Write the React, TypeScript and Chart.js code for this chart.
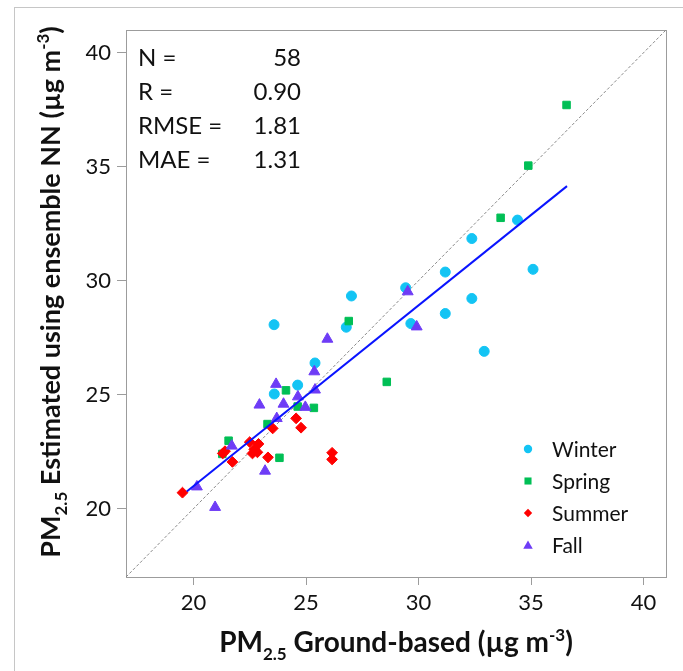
import React, { useEffect, useRef } from "react";
import { Chart, registerables } from "chart.js";

Chart.register(...registerables);

// ---- data ----
const winterX = [34.4, 32.37, 31.19, 35.09, 29.43, 27.02, 32.37, 31.19, 23.58, 29.66, 26.79, 32.92, 25.4, 24.63, 23.59];
const winterY = [32.66, 31.85, 30.38, 30.5, 29.69, 29.33, 29.22, 28.56, 28.07, 28.12, 27.96, 26.9, 26.39, 25.42, 25.03];

const springX = [36.58, 34.88, 33.65, 26.9, 28.59, 24.11, 24.63, 25.35, 23.29, 21.56, 21.28, 23.82];
const springY = [37.71, 35.05, 32.76, 28.23, 25.56, 25.19, 24.48, 24.42, 23.71, 22.98, 22.4, 22.23];

const summerX = [19.51, 21.3, 21.4, 21.73, 22.5, 22.89, 22.62, 22.84, 23.31, 23.52, 24.56, 24.78, 26.16, 26.16, 22.7];
const summerY = [20.7, 22.42, 22.52, 22.05, 22.92, 22.84, 22.42, 22.47, 22.25, 23.52, 23.96, 23.55, 22.45, 22.16, 22.6];

const fallX = [20.15, 20.96, 21.7, 23.18, 22.93, 23.67, 24.0, 23.7, 24.64, 24.97, 25.4, 25.37, 25.95, 29.52, 29.92];
const fallY = [20.96, 20.06, 22.75, 21.65, 24.55, 25.46, 24.59, 23.96, 24.91, 24.45, 25.21, 26.01, 27.44, 29.52, 27.98];

const fitX = [19.7, 36.6];
const fitY = [20.75, 34.15];

const identityX = [17, 41];
const identityY = [17, 41];

const axisMin = 17;
const axisMax = 41;
const tickValues = [20, 25, 30, 35, 40];

const statLabels = ["N =", "R =", "RMSE =", "MAE ="];
const statValues = ["58", "0.90", "1.81", "1.31"];

const seasonNames = ["Winter", "Spring", "Summer", "Fall"];
const seasonColors = ["#13c4f4", "#00bf55", "#ff0000", "#6e3cf6"];
const seasonShapes = ["circle", "rect", "rectRot", "triangle"];

const FONT = "Lato, 'Open Sans', sans-serif";

type Seg = { t: string; k?: "sub" | "sup" };

const xTitle: Seg[] = [
  { t: "PM" },
  { t: "2.5", k: "sub" },
  { t: " Ground-based (\u00b5g m" },
  { t: "-3", k: "sup" },
  { t: ")" },
];
const yTitle: Seg[] = [
  { t: "PM" },
  { t: "2.5", k: "sub" },
  { t: " Estimated using ensemble NN (\u00b5g m" },
  { t: "-3", k: "sup" },
  { t: ")" },
];

function pts(xs: number[], ys: number[]) {
  return xs.map((x, i) => ({ x, y: ys[i] }));
}

function drawRich(ctx: CanvasRenderingContext2D, segs: Seg[], size: number) {
  const small = Math.round(size * 0.62);
  const fontOf = (s: Seg) => `bold ${s.k ? small : size}px ${FONT}`;
  let total = 0;
  for (const s of segs) {
    ctx.font = fontOf(s);
    total += ctx.measureText(s.t).width;
  }
  let x = -total / 2;
  ctx.textAlign = "left";
  ctx.textBaseline = "alphabetic";
  for (const s of segs) {
    ctx.font = fontOf(s);
    const dy = s.k === "sub" ? size * 0.27 : s.k === "sup" ? -size * 0.4 : 0;
    ctx.fillText(s.t, x, dy);
    x += ctx.measureText(s.t).width;
  }
}

function marker(ctx: CanvasRenderingContext2D, shape: string, x: number, y: number, r: number, color: string) {
  ctx.save();
  ctx.fillStyle = color;
  ctx.beginPath();
  if (shape === "circle") {
    ctx.arc(x, y, r, 0, Math.PI * 2);
  } else if (shape === "rect") {
    const h = r * Math.SQRT1_2;
    ctx.rect(x - h, y - h, 2 * h, 2 * h);
  } else if (shape === "rectRot") {
    ctx.moveTo(x - r, y);
    ctx.lineTo(x, y - r);
    ctx.lineTo(x + r, y);
    ctx.lineTo(x, y + r);
    ctx.closePath();
  } else {
    ctx.moveTo(x, y - r);
    ctx.lineTo(x + r * 0.866, y + r * 0.5);
    ctx.lineTo(x - r * 0.866, y + r * 0.5);
    ctx.closePath();
  }
  ctx.fill();
  ctx.restore();
}

const decorPlugin = {
  id: "decor",
  beforeDraw(chart: any) {
    const ctx: CanvasRenderingContext2D = chart.ctx;
    ctx.save();
    ctx.strokeStyle = "#c6c6c6";
    ctx.lineWidth = 1;
    ctx.strokeRect(14.5, 7.5, 800, 800);
    ctx.restore();
  },
  beforeDatasetsDraw(chart: any) {
    const ctx: CanvasRenderingContext2D = chart.ctx;
    const a = chart.chartArea;
    ctx.save();
    ctx.strokeStyle = "#9c9c9c";
    ctx.lineWidth = 1;
    ctx.strokeRect(Math.round(a.left) + 0.5, Math.round(a.top) + 0.5, Math.round(a.right - a.left), Math.round(a.bottom - a.top));
    ctx.restore();
  },
  afterDraw(chart: any) {
    const ctx: CanvasRenderingContext2D = chart.ctx;
    const a = chart.chartArea;
    ctx.save();
    ctx.fillStyle = "#111";
    // stats block
    ctx.font = `24px ${FONT}`;
    ctx.textBaseline = "alphabetic";
    statLabels.forEach((lab, i) => {
      const y = 66 + i * 34;
      ctx.textAlign = "left";
      ctx.fillText(lab, a.left + 12, y);
      ctx.textAlign = "right";
      ctx.fillText(statValues[i], a.left + 175, y);
    });
    // legend
    ctx.font = `21px ${FONT}`;
    ctx.textBaseline = "middle";
    ctx.textAlign = "left";
    seasonNames.forEach((name, i) => {
      const y = 449 + i * 32;
      const mr = seasonShapes[i] === "triangle" ? 5.5 : seasonShapes[i] === "rect" ? 5 : 4.2;
      marker(ctx, seasonShapes[i], 528, y + (seasonShapes[i] === "triangle" ? 1 : 0), mr, seasonColors[i]);
      ctx.fillStyle = "#111";
      ctx.fillText(name, 552, y + 1);
    });
    // axis titles
    ctx.fillStyle = "#111";
    ctx.save();
    ctx.translate((a.left + a.right) / 2, 652);
    drawRich(ctx, xTitle, 28);
    ctx.restore();
    ctx.save();
    ctx.translate(60, 292);
    ctx.rotate(-Math.PI / 2);
    drawRich(ctx, yTitle, 27);
    ctx.restore();
    ctx.restore();
  },
};

export default function App() {
  const ref = useRef<HTMLCanvasElement | null>(null);

  useEffect(() => {
    if (!ref.current) return;
    const pointDs = (i: number, xs: number[], ys: number[], r: number) => ({
      label: seasonNames[i],
      data: pts(xs, ys),
      backgroundColor: seasonColors[i],
      borderColor: seasonColors[i],
      borderWidth: 1,
      pointStyle: seasonShapes[i],
      pointRadius: r,
      showLine: false,
    });
    const tickCommon = {
      font: { family: FONT, size: 22 },
      color: "#111",
    };
    const chart = new Chart(ref.current, {
      type: "scatter",
      data: {
        datasets: [
          {
            label: "fit",
            data: pts(fitX, fitY),
            showLine: true,
            borderColor: "#0a14ff",
            borderWidth: 2,
            pointRadius: 0,
            fill: false,
          },
          pointDs(3, fallX, fallY, 6.3),
          pointDs(2, summerX, summerY, 5.4),
          pointDs(1, springX, springY, 5.3),
          pointDs(0, winterX, winterY, 5),
          {
            label: "1:1",
            data: pts(identityX, identityY),
            showLine: true,
            borderColor: "#8a8a8a",
            borderWidth: 1,
            borderDash: [3, 2],
            pointRadius: 0,
            fill: false,
          },
        ] as any,
      },
      options: {
        animation: false,
        responsive: false,
        events: [],
        layout: { padding: { left: 0, top: 30, right: 17, bottom: 0 } },
        plugins: {
          legend: { display: false },
          tooltip: { enabled: false },
          title: { display: false },
        },
        scales: {
          x: {
            type: "linear",
            min: axisMin,
            max: axisMax,
            afterBuildTicks: (s: any) => {
              s.ticks = tickValues.map((v) => ({ value: v }));
            },
            afterFit: (s: any) => {
              s.height = 94;
            },
            ticks: { ...tickCommon, padding: 5, maxRotation: 0, autoSkip: false },
            grid: { drawOnChartArea: false, drawTicks: true, tickLength: 8, color: "#9c9c9c" },
            border: { display: true, color: "#9c9c9c" },
          },
          y: {
            type: "linear",
            min: axisMin,
            max: axisMax,
            afterBuildTicks: (s: any) => {
              s.ticks = tickValues.map((v) => ({ value: v }));
            },
            afterFit: (s: any) => {
              s.width = 126;
            },
            ticks: { ...tickCommon, padding: 6, autoSkip: false },
            grid: { drawOnChartArea: false, drawTicks: true, tickLength: 9, color: "#9c9c9c" },
            border: { display: true, color: "#9c9c9c" },
          },
        },
      } as any,
      plugins: [decorPlugin],
    });
    return () => chart.destroy();
  }, []);

  return (
    <div style={{ position: "fixed", left: 0, top: 0, width: 683, height: 671, background: "#fff" }}>
      <canvas ref={ref} width={683} height={671} style={{ width: 683, height: 671, display: "block" }} />
    </div>
  );
}
